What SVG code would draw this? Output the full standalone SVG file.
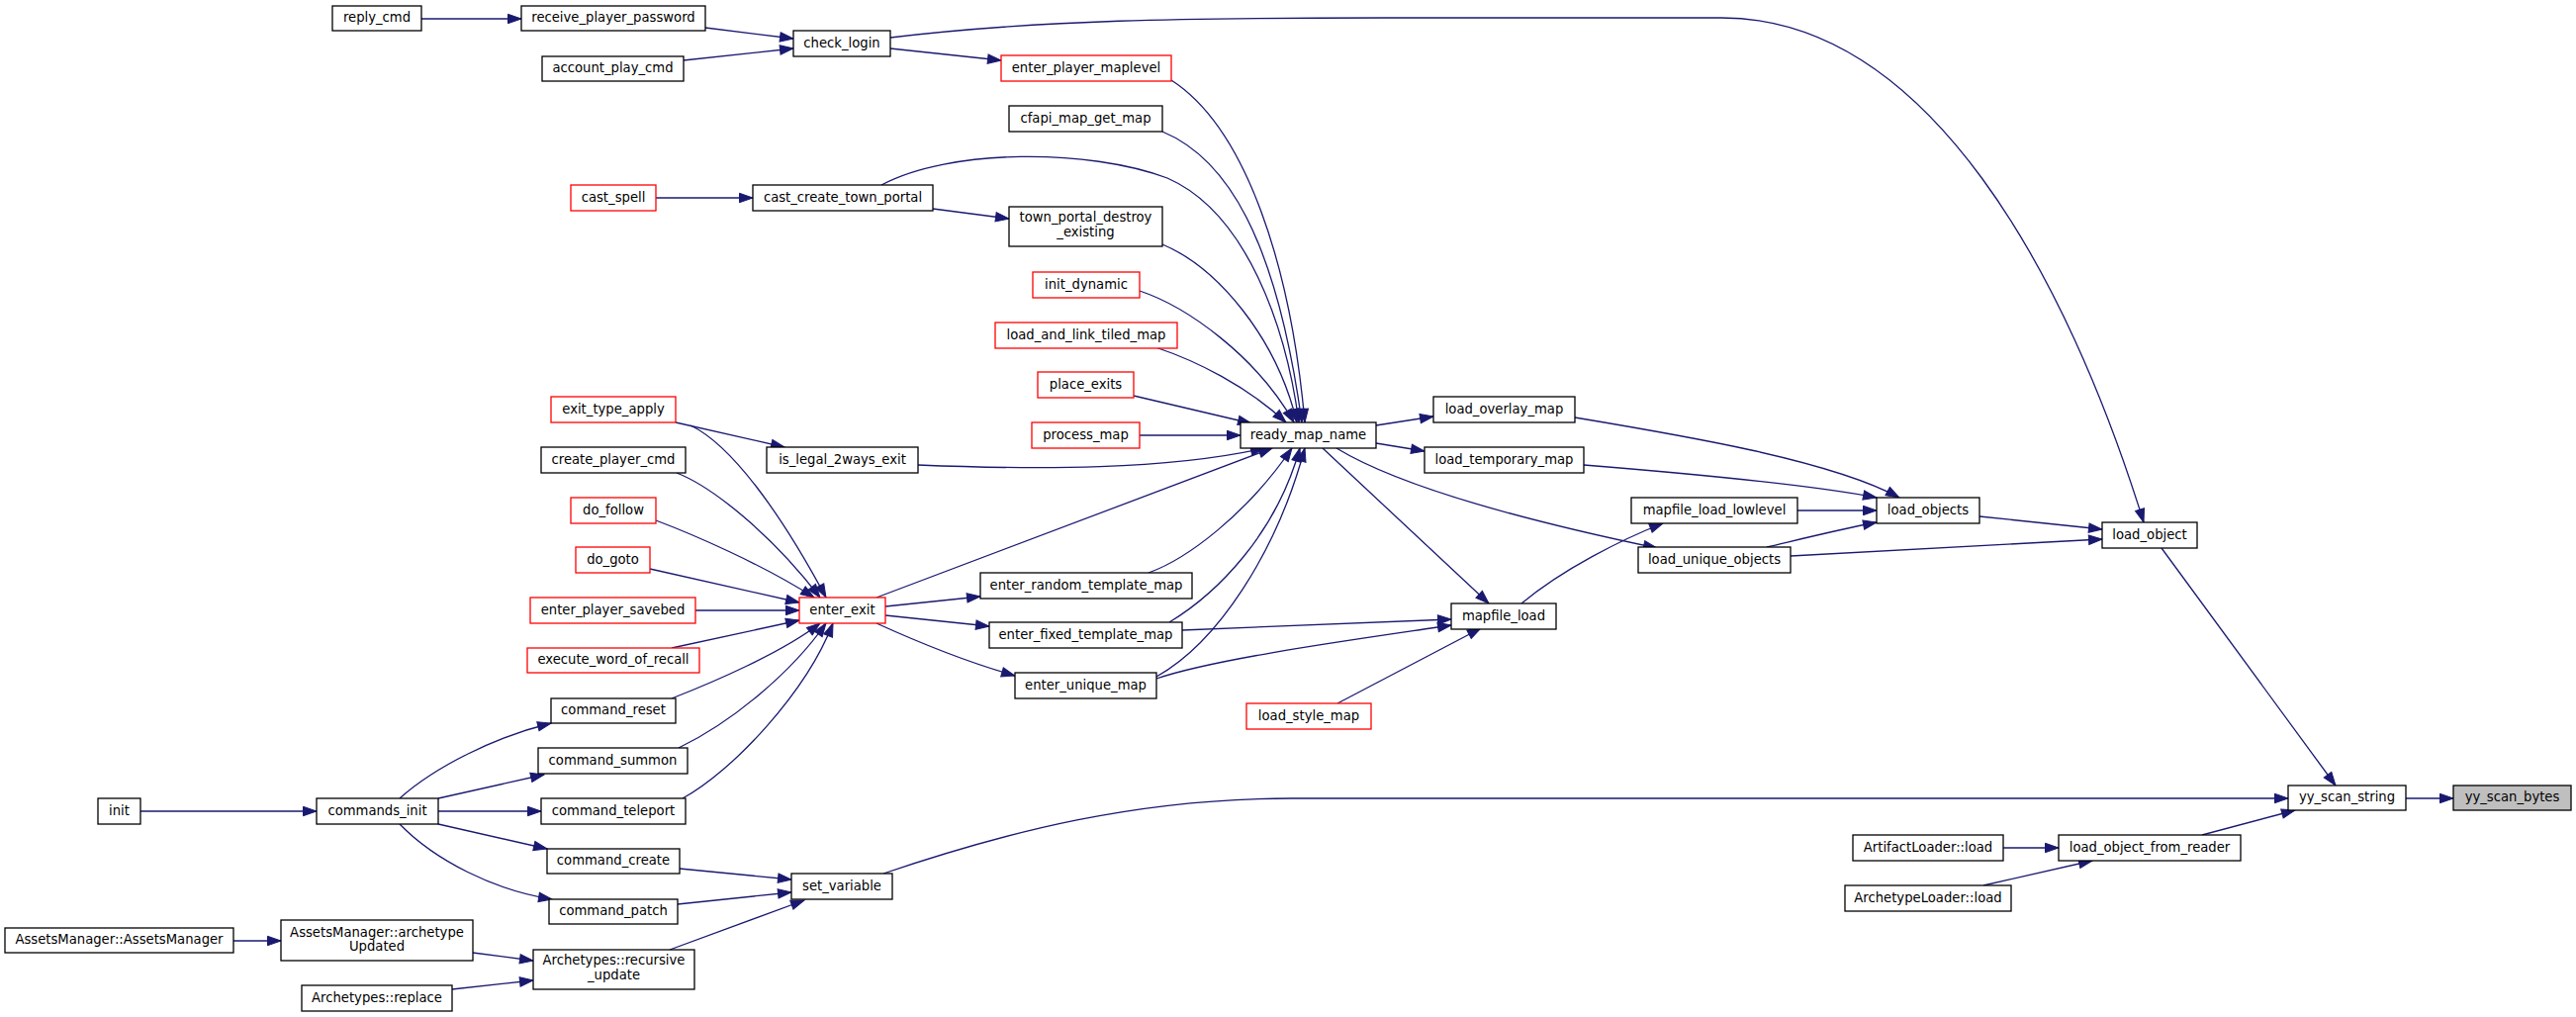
<svg xmlns="http://www.w3.org/2000/svg" width="2604" height="1028" viewBox="0 0 2604 1028">
<defs>
<style>
.n rect{fill:#ffffff;stroke:#000000;stroke-width:1.3}
.r rect{stroke:#ff0000}
.g rect{fill:#bfbfbf}
text{font-family:"DejaVu Sans","Liberation Sans",sans-serif;font-size:13.2px;fill:#000000;text-anchor:middle}
#edges path{fill:none;stroke:#191970;stroke-width:1.3;marker-end:url(#a)}
</style>
<marker id="a" markerUnits="userSpaceOnUse" markerWidth="14" markerHeight="10" refX="13.5" refY="5" orient="auto" viewBox="0 0 14 10" style="overflow:visible">
<path d="M0,0.3 L13.5,5 L0,9.7 z" fill="#191970" stroke="#191970" stroke-width="1"/>
</marker>
</defs>
<rect x="0" y="0" width="2604" height="1028" fill="#ffffff"/>
<g id="edges">
<path d="M2432,807 L2480,807"/>
<path d="M2185,554 L2361,794"/>
<path d="M2226,844 L2320,819"/>
<path d="M893,883 C1020,840 1150,807 1306,807 L2313,807"/>
<path d="M900,38 C1050,20 1200,18 1400,18 L1740,18 C1950,18 2090,280 2167,528"/>
<path d="M900,49 L1012,61"/>
<path d="M713,28 L802,39"/>
<path d="M691,61 L802,49"/>
<path d="M426,19 L527,19"/>
<path d="M1184,81 C1260,130 1305,270 1319,427"/>
<path d="M1175,133 C1240,160 1290,240 1316,427"/>
<path d="M891,187 C960,150 1100,150 1180,180 C1260,215 1300,330 1313,427"/>
<path d="M943,211 L1020,221"/>
<path d="M663,200 L761,200"/>
<path d="M1175,247 C1230,270 1290,340 1311,427"/>
<path d="M1152,294 C1200,310 1270,360 1308,427"/>
<path d="M1168,351 C1210,365 1260,390 1300,427"/>
<path d="M1146,400 L1265,428"/>
<path d="M1152,440 L1254,440"/>
<path d="M928,470 C1050,475 1180,475 1278,453"/>
<path d="M683,427 L793,452"/>
<path d="M698,430 C740,450 790,520 835,604"/>
<path d="M684,478 C720,492 780,540 829,604"/>
<path d="M663,526 C700,540 770,570 823,604"/>
<path d="M657,575 L808,609"/>
<path d="M703,617 L808,617"/>
<path d="M679,655 L808,627"/>
<path d="M679,706 C720,690 790,660 829,630"/>
<path d="M686,756 C740,730 800,680 835,630"/>
<path d="M690,807 C740,780 815,700 842,630"/>
<path d="M886,604 L1286,453"/>
<path d="M895,613 L991,603"/>
<path d="M895,622 L1000,633"/>
<path d="M886,630 C930,650 980,670 1026,683"/>
<path d="M1161,579 C1200,565 1260,520 1306,453"/>
<path d="M1182,629 C1230,600 1290,540 1314,453"/>
<path d="M1195,637 L1467,626"/>
<path d="M1169,684 C1230,650 1290,560 1319,453"/>
<path d="M1169,686 C1230,665 1380,645 1467,632"/>
<path d="M1391,430 L1449,421"/>
<path d="M1391,448 L1440,456"/>
<path d="M1337,453 L1505,610"/>
<path d="M1351,453 C1420,495 1560,530 1675,554"/>
<path d="M1352,711 L1497,635"/>
<path d="M1538,610 C1580,575 1640,545 1681,529"/>
<path d="M1592,422 C1700,440 1850,465 1920,503"/>
<path d="M1601,470 C1700,478 1830,490 1897,503"/>
<path d="M1817,516 L1897,516"/>
<path d="M1786,553 C1820,545 1860,535 1897,528"/>
<path d="M1810,562 L2125,545"/>
<path d="M2001,522 L2125,535"/>
<path d="M404,807 C440,775 500,745 557,731"/>
<path d="M443,807 L550,783"/>
<path d="M443,820 L547,820"/>
<path d="M443,833 L553,858"/>
<path d="M404,833 C440,870 500,900 558,909"/>
<path d="M142,820 L320,820"/>
<path d="M687,878 L800,889"/>
<path d="M685,914 L800,902"/>
<path d="M677,960 L813,910"/>
<path d="M236,951 L284,951"/>
<path d="M478,963 L539,971"/>
<path d="M457,1000 L539,991"/>
<path d="M2025,857 L2081,857"/>
<path d="M2005,895 L2115,870"/>
</g>
<g id="yy_scan_bytes" class="n g"><rect x="2480" y="794" width="119" height="25"/><text x="2539.5" y="810">yy_scan_bytes</text></g>
<g id="yy_scan_string" class="n"><rect x="2313" y="794" width="119" height="25"/><text x="2372.5" y="810">yy_scan_string</text></g>
<g id="load_object" class="n"><rect x="2125" y="528" width="96" height="26"/><text x="2173" y="544.5">load_object</text></g>
<g id="load_object_from_reader" class="n"><rect x="2081" y="844" width="184" height="26"/><text x="2173" y="860.5">load_object_from_reader</text></g>
<g id="load_objects" class="n"><rect x="1897" y="503" width="104" height="26"/><text x="1949" y="519.5">load_objects</text></g>
<g id="ArtifactLoader_load" class="n"><rect x="1873" y="844" width="152" height="26"/><text x="1949" y="860.5">ArtifactLoader::load</text></g>
<g id="ArchetypeLoader_load" class="n"><rect x="1865" y="895" width="168" height="26"/><text x="1949" y="911.5">ArchetypeLoader::load</text></g>
<g id="mapfile_load_lowlevel" class="n"><rect x="1649" y="503" width="168" height="26"/><text x="1733" y="519.5">mapfile_load_lowlevel</text></g>
<g id="load_unique_objects" class="n"><rect x="1656" y="553" width="154" height="26"/><text x="1733" y="569.5">load_unique_objects</text></g>
<g id="load_overlay_map" class="n"><rect x="1449" y="401" width="143" height="26"/><text x="1520.5" y="417.5">load_overlay_map</text></g>
<g id="load_temporary_map" class="n"><rect x="1440" y="452" width="161" height="26"/><text x="1520.5" y="468.5">load_temporary_map</text></g>
<g id="mapfile_load" class="n"><rect x="1467" y="610" width="106" height="26"/><text x="1520" y="626.5">mapfile_load</text></g>
<g id="ready_map_name" class="n"><rect x="1254" y="427" width="137" height="26"/><text x="1322.5" y="443.5">ready_map_name</text></g>
<g id="load_style_map" class="n r"><rect x="1260" y="711" width="126" height="26"/><text x="1323" y="727.5">load_style_map</text></g>
<g id="enter_player_maplevel" class="n r"><rect x="1012" y="56" width="172" height="26"/><text x="1098" y="72.5">enter_player_maplevel</text></g>
<g id="cfapi_map_get_map" class="n"><rect x="1020" y="107" width="155" height="26"/><text x="1097.5" y="123.5">cfapi_map_get_map</text></g>
<g id="town_portal_destroy_existing" class="n"><rect x="1020" y="209" width="155" height="40"/><text x="1097.5" y="223.5">town_portal_destroy</text><text x="1097.5" y="238.5">_existing</text></g>
<g id="init_dynamic" class="n r"><rect x="1044" y="275" width="108" height="26"/><text x="1098" y="291.5">init_dynamic</text></g>
<g id="load_and_link_tiled_map" class="n r"><rect x="1006" y="326" width="184" height="26"/><text x="1098" y="342.5">load_and_link_tiled_map</text></g>
<g id="place_exits" class="n r"><rect x="1049" y="376" width="97" height="26"/><text x="1097.5" y="392.5">place_exits</text></g>
<g id="process_map" class="n r"><rect x="1043" y="427" width="109" height="26"/><text x="1097.5" y="443.5">process_map</text></g>
<g id="enter_random_template_map" class="n"><rect x="991" y="579" width="214" height="26"/><text x="1098" y="595.5">enter_random_template_map</text></g>
<g id="enter_fixed_template_map" class="n"><rect x="1000" y="629" width="195" height="26"/><text x="1097.5" y="645.5">enter_fixed_template_map</text></g>
<g id="enter_unique_map" class="n"><rect x="1026" y="680" width="143" height="26"/><text x="1097.5" y="696.5">enter_unique_map</text></g>
<g id="check_login" class="n"><rect x="802" y="31" width="98" height="26"/><text x="851" y="47.5">check_login</text></g>
<g id="cast_create_town_portal" class="n"><rect x="761" y="187" width="182" height="26"/><text x="852" y="203.5">cast_create_town_portal</text></g>
<g id="is_legal_2ways_exit" class="n"><rect x="775" y="452" width="153" height="26"/><text x="851.5" y="468.5">is_legal_2ways_exit</text></g>
<g id="enter_exit" class="n r"><rect x="808" y="604" width="87" height="26"/><text x="851.5" y="620.5">enter_exit</text></g>
<g id="set_variable" class="n"><rect x="800" y="883" width="102" height="26"/><text x="851" y="899.5">set_variable</text></g>
<g id="receive_player_password" class="n"><rect x="527" y="6" width="186" height="25"/><text x="620" y="22">receive_player_password</text></g>
<g id="account_play_cmd" class="n"><rect x="548" y="57" width="143" height="25"/><text x="619.5" y="73">account_play_cmd</text></g>
<g id="cast_spell" class="n r"><rect x="577" y="187" width="86" height="26"/><text x="620" y="203.5">cast_spell</text></g>
<g id="exit_type_apply" class="n r"><rect x="557" y="401" width="126" height="26"/><text x="620" y="417.5">exit_type_apply</text></g>
<g id="create_player_cmd" class="n"><rect x="547" y="452" width="146" height="26"/><text x="620" y="468.5">create_player_cmd</text></g>
<g id="do_follow" class="n r"><rect x="577" y="503" width="86" height="26"/><text x="620" y="519.5">do_follow</text></g>
<g id="do_goto" class="n r"><rect x="582" y="553" width="75" height="26"/><text x="619.5" y="569.5">do_goto</text></g>
<g id="enter_player_savebed" class="n r"><rect x="536" y="604" width="167" height="26"/><text x="619.5" y="620.5">enter_player_savebed</text></g>
<g id="execute_word_of_recall" class="n r"><rect x="533" y="655" width="174" height="25"/><text x="620" y="671">execute_word_of_recall</text></g>
<g id="command_reset" class="n"><rect x="557" y="706" width="126" height="25"/><text x="620" y="722">command_reset</text></g>
<g id="command_summon" class="n"><rect x="544" y="756" width="151" height="26"/><text x="619.5" y="772.5">command_summon</text></g>
<g id="command_teleport" class="n"><rect x="547" y="807" width="146" height="26"/><text x="620" y="823.5">command_teleport</text></g>
<g id="command_create" class="n"><rect x="553" y="858" width="134" height="25"/><text x="620" y="874">command_create</text></g>
<g id="command_patch" class="n"><rect x="555" y="909" width="130" height="25"/><text x="620" y="925">command_patch</text></g>
<g id="Archetypes_recursive_update" class="n"><rect x="539" y="960" width="163" height="40"/><text x="620.5" y="975">Archetypes::recursive</text><text x="620.5" y="989.5">_update</text></g>
<g id="reply_cmd" class="n"><rect x="336" y="6" width="90" height="25"/><text x="381" y="22">reply_cmd</text></g>
<g id="commands_init" class="n"><rect x="320" y="807" width="123" height="26"/><text x="381.5" y="823.5">commands_init</text></g>
<g id="AssetsManager_archetypeUpdated" class="n"><rect x="284" y="930" width="194" height="41"/><text x="381" y="946.5">AssetsManager::archetype</text><text x="381" y="960.5">Updated</text></g>
<g id="Archetypes_replace" class="n"><rect x="305" y="996" width="152" height="26"/><text x="381" y="1012.5">Archetypes::replace</text></g>
<g id="init" class="n"><rect x="99" y="807" width="43" height="26"/><text x="120.5" y="823.5">init</text></g>
<g id="AssetsManager_AssetsManager" class="n"><rect x="5" y="938" width="231" height="25"/><text x="120.5" y="954">AssetsManager::AssetsManager</text></g>
</svg>
